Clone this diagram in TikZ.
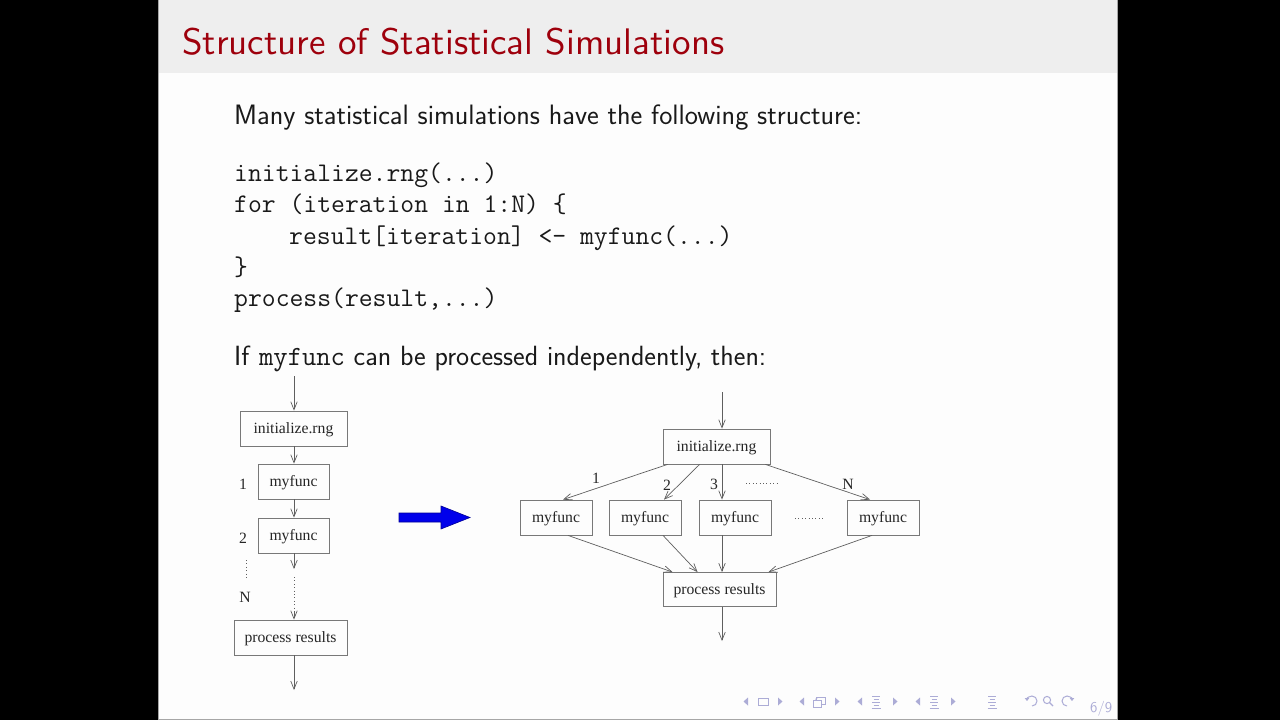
\documentclass[tikz,border=0pt]{standalone}
\usepackage{fontspec}
\usepackage{graphicx}
\usetikzlibrary{arrows.meta}
\newfontfamily\xfigfont{Liberation Serif}
\definecolor{headgray}{RGB}{238,238,238}
\definecolor{titlered}{RGB}{158,0,12}
\definecolor{bodytext}{RGB}{25,25,25}
\definecolor{slidebg}{RGB}{253,253,253}
\definecolor{navcol}{RGB}{172,172,214}
\definecolor{linegray}{RGB}{95,95,95}
\definecolor{boxgray}{RGB}{120,120,120}
\definecolor{bluefill}{RGB}{0,0,235}
\definecolor{blueedge}{RGB}{0,0,150}
\tikzset{
  txt/.style={anchor=base west, inner sep=0pt, text=bodytext},
  codeline/.style={txt, font=\fontsize{26.9}{30}\selectfont\ttfamily},
  fbox/.style={draw=boxgray, line width=0.8pt, inner sep=0pt, minimum height=35pt,
    text height=12pt, text depth=2pt,
    font=\fontsize{15.7}{18}\selectfont\xfigfont, text=black!85},
  lbl/.style={inner sep=0pt, font=\fontsize{15.7}{18}\selectfont\xfigfont, text=black!85},
  arr/.style={draw=linegray, line width=0.7pt, -{Straight Barb[length=8pt,width=6.5pt,line width=0.7pt]}},
  dots/.style={draw=linegray, line width=0.7pt, dash pattern=on 0.8pt off 2.6pt},
  navtri/.style={fill=navcol, draw=none},
  navline/.style={draw=navcol, line width=1pt}
}
\begin{document}
\begin{tikzpicture}[x=1pt,y=-1pt]
\useasboundingbox (0,0) rectangle (1280,720);
% frame
\fill[black] (0,0) rectangle (1280,720);
\fill[slidebg] (158,0) rectangle (1118,720);
\fill[headgray] (158,0) rectangle (1118,73);
\draw[gray!70, line width=1pt] (158.5,0) -- (158.5,719.5) -- (1117.5,719.5) -- (1117.5,0);
% title
\node[txt, text=titlered, font=\sffamily] (title) at (182,54)
  {\resizebox{542pt}{!}{Structure of Statistical Simulations}};
% body
\node[txt, font=\fontsize{24}{28}\selectfont\sffamily] (intro) at (234,124)
  {\resizebox{628pt}{!}{Many statistical simulations have the following structure:}};
\node[codeline] (c1) at (234,181) {initialize.rng(...)};
\node[codeline] (c2) at (234,212) {for (iteration in 1:N) \{};
\node[codeline] (c3) at (289,244) {result[iteration] <- myfunc(...)};
\node[codeline] (c4) at (234,275) {\}};
\node[codeline] (c5) at (234,306) {process(result,...)};
\node[txt, font=\fontsize{24}{28}\selectfont\sffamily] (ifline) at (234,365)
  {\resizebox{532pt}{!}{If \texttt{myfunc} can be processed independently, then:}};

% ---------------- left diagram ----------------
\node[fbox, minimum width=107pt] (Linit) at (293.5,428.5) {initialize.rng};
\node[fbox, minimum width=71pt] (Lf1) at (293.5,481.5) {myfunc};
\node[fbox, minimum width=71pt] (Lf2) at (293.5,535.5) {myfunc};
\node[fbox, minimum width=113pt] (Lproc) at (290.5,637.5) {process results};
\coordinate (Ltop) at (294,376);
\coordinate (Lbot) at (294,690);
\coordinate (La) at (294,569);
\coordinate (Lb) at (294,577);
\coordinate (Lc) at (294,611);
\draw[arr] (Ltop) -- (Ltop |- Linit.north);
\draw[arr] (Ltop |- Linit.south) -- (Ltop |- Lf1.north);
\draw[arr] (Ltop |- Lf1.south) -- (Ltop |- Lf2.north);
\draw[arr] (Ltop |- Lf2.south) -- (La);
\draw[dots] (Lb) -- (Lc);
\draw[arr] (Lc) -- (Lc |- Lproc.north);
\draw[arr] (Lc |- Lproc.south) -- (Lbot);
\node[lbl] (L1) at (243,484) {1};
\node[lbl] (L2) at (243,538) {2};
\node[lbl] (LN) at (245,597) {N};
\coordinate (Ld1) at (246,560);
\coordinate (Ld2) at (246,579);
\draw[dots] (Ld1) -- (Ld2);

% ---------------- blue arrow ----------------
\fill[bluefill, draw=blueedge, line width=0.6pt] (399,513) -- (441,513) -- (441,506) -- (470,517.5)
  -- (441,529) -- (441,522) -- (399,522) -- cycle;

% ---------------- right diagram ----------------
\node[fbox, minimum width=107pt] (Rinit) at (716.5,446.5) {initialize.rng};
\node[fbox, minimum width=72pt] (R1) at (556,517.5) {myfunc};
\node[fbox, minimum width=72pt] (R2) at (645,517.5) {myfunc};
\node[fbox, minimum width=72pt] (R3) at (735,517.5) {myfunc};
\node[fbox, minimum width=72pt] (R4) at (883,517.5) {myfunc};
\node[fbox, minimum width=113pt, minimum height=34pt] (Rproc) at (719.5,589.5) {process results};
\coordinate (Rtop) at (722,392);
\coordinate (Rbot) at (722,641);
\draw[arr] (Rtop) -- (Rtop |- Rinit.north);
\draw[arr] ([xshift=5pt]Rinit.south west) -- ([xshift=7pt]R1.north);
\draw[arr] ([xshift=37pt]Rinit.south west) -- ([xshift=19pt]R2.north);
\draw[arr] (Rtop |- Rinit.south) -- (Rtop |- R3.north);
\draw[arr] ([xshift=-5pt]Rinit.south east) -- ([xshift=-13pt]R4.north);
\draw[arr] ([xshift=12pt]R1.south) -- ([xshift=10pt]Rproc.north west);
\draw[arr] ([xshift=18pt]R2.south) -- ([xshift=35pt]Rproc.north west);
\draw[arr] (Rtop |- R3.south) -- (Rtop |- Rproc.north);
\draw[arr] ([xshift=-11pt]R4.south) -- ([xshift=-8pt]Rproc.north east);
\draw[arr] (Rtop |- Rproc.south) -- (Rbot);
\node[lbl] (R1l) at (596,478) {1};
\node[lbl] (R2l) at (667,485) {2};
\node[lbl] (R3l) at (714,484) {3};
\node[lbl] (RNl) at (848,484) {N};
\coordinate (Rd1) at (746,483);
\coordinate (Rd2) at (778,483);
\coordinate (Rd3) at (795,518);
\coordinate (Rd4) at (825,518);
\draw[dots] (Rd1) -- (Rd2);
\draw[dots] (Rd3) -- (Rd4);

% ---------------- navigation symbols ----------------
\foreach \x in {746,802,860,918} {
  \fill[navtri] (\x+2,697.5) -- (\x-2.5,701.5) -- (\x+2,705.5) -- cycle;
}
\foreach \x in {780,837,895,953} {
  \fill[navtri] (\x-2,697.5) -- (\x+2.5,701.5) -- (\x-2,705.5) -- cycle;
}
\draw[navcol, line width=1pt] (758,698) rectangle (768,705);
\draw[navcol, line width=1pt] (813,700) rectangle (821,707);
\draw[navcol, line width=1pt] (816,700) -- (816,697) -- (825,697) -- (825,704) -- (821,704);
\draw[navcol, line width=0.9pt] (815.5,699.5) -- (817.5,697.5);
\foreach \x in {876,934,992} {
  \draw[navline] (\x-4,696) -- (\x+4,696);
  \draw[navline] (\x-2.5,699) -- (\x+2.5,699);
  \draw[navline] (\x-4,702) -- (\x+4,702);
  \draw[navline] (\x-2.5,705) -- (\x+2.5,705);
  \draw[navcol, line width=1.6pt] (\x-4.5,708.5) -- (\x+4.5,708.5);
}
% undo, zoom, redo
\draw[navcol, line width=1pt, {Triangle[length=3pt,width=4.5pt]}-] (1027,701) arc[start angle=180, end angle=450, radius=5];
\draw[navcol, line width=1pt] (1047,700) circle[radius=3.6];
\draw[navcol, line width=1.3pt] (1049.5,702.5) -- (1053,706);
\draw[navcol, line width=1pt, {Triangle[length=3pt,width=4.5pt]}-] (1072,701) arc[start angle=0, end angle=-270, radius=5];
\node[txt, text=navcol, font=\fontsize{15}{17}\selectfont\sffamily] (page) at (1090,712) {6/9};
\end{tikzpicture}
\end{document}
